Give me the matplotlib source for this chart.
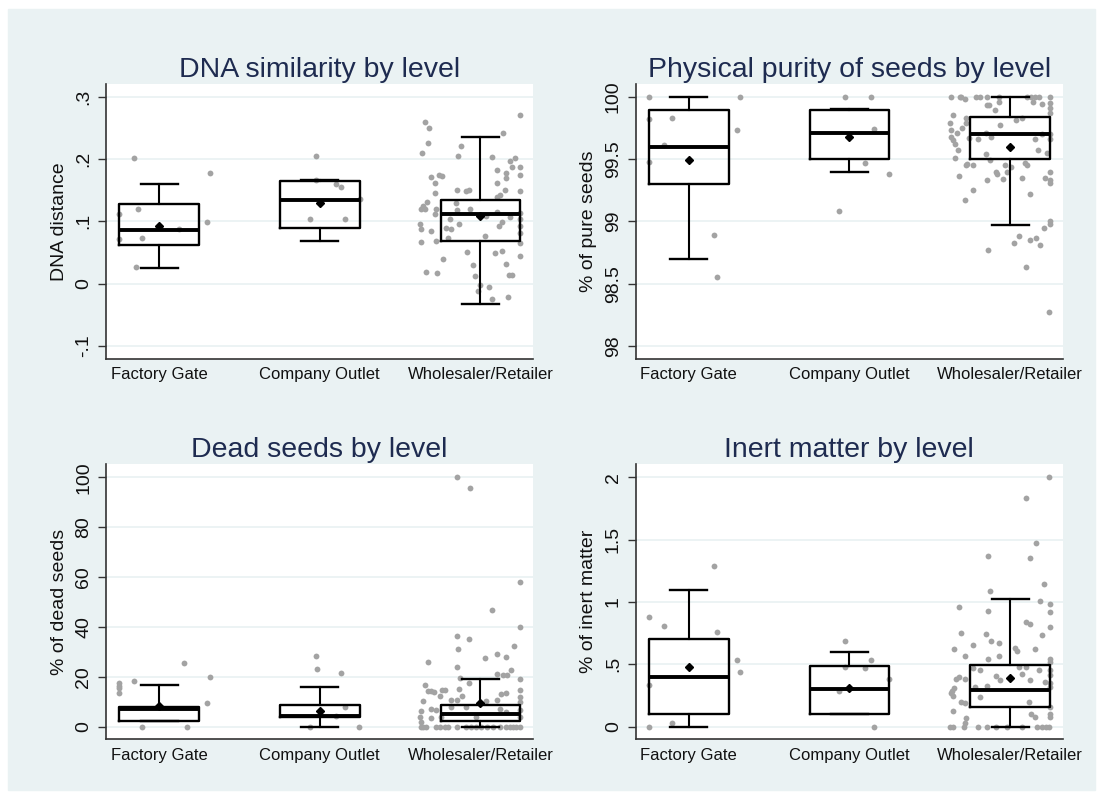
import matplotlib
matplotlib.use('Agg')
import matplotlib.pyplot as plt
from matplotlib.patches import Rectangle

plt.rcParams['font.family'] = ['Liberation Sans', 'DejaVu Sans']

cats = ['Factory Gate', 'Company Outlet', 'Wholesaler/Retailer']

# box stats per category: (whislo, q1, median, q3, whishi, mean)
dna_box = [(0.025, 0.062, 0.086, 0.128, 0.160, 0.093),
           (0.069, 0.089, 0.135, 0.164, 0.166, 0.129),
           (-0.033, 0.068, 0.112, 0.135, 0.236, 0.109)]
pur_box = [(98.695, 99.30, 99.60, 99.89, 100.0, 99.495),
           (99.40, 99.50, 99.706, 99.893, 99.90, 99.674),
           (98.97, 99.50, 99.70, 99.84, 100.0, 99.60)]
dead_box = [(2.2, 2.2, 7.1, 7.8, 16.9, 8.3),
            (0.0, 4.0, 4.3, 8.7, 16.0, 6.3),
            (0.0, 2.4, 5.1, 8.6, 19.2, 9.6)]
inert_box = [(0.0, 0.10, 0.40, 0.70, 1.10, 0.476),
             (0.10, 0.10, 0.30, 0.49, 0.60, 0.31),
             (0.0, 0.155, 0.294, 0.492, 1.024, 0.393)]

# individual observations: jitter offset (dx) and value (y)
dna_fg_dx = [-0.156, -0.129, -0.251, -0.251, -0.104, -0.145, 0.122, 0.315, 0.297]
dna_fg_y = [0.202, 0.120, 0.111, 0.072, 0.073, 0.027, 0.088, 0.177, 0.099]
dna_co_dx = [-0.023, -0.023, 0.104, 0.133, 0.253, -0.058, 0.158]
dna_co_y = [0.205, 0.167, 0.160, 0.155, 0.136, 0.103, 0.103]
dna_wr_dx = [0.245, -0.346, -0.320, 0.141, -0.324, -0.122, -0.361, -0.139, 0.071, 0.183,
             0.214, 0.247, 0.100, 0.199, 0.156, 0.158, 0.249, -0.305, -0.259, -0.237,
             -0.280, 0.104, -0.282, -0.149, -0.093, -0.073, 0.154, 0.249, 0.124, 0.100,
             -0.357, -0.332, -0.367, -0.346, -0.274, -0.284, -0.154, -0.145, -0.066, 0.037,
             0.104, 0.183, 0.249, 0.249, -0.378, -0.191, -0.373, -0.309, -0.216, -0.181,
             -0.135, 0.116, 0.137, 0.249, 0.249, -0.371, -0.274, -0.201, 0.027, 0.249,
             -0.081, 0.093, 0.137, 0.245, -0.232, -0.046, 0.158, -0.336, -0.268, -0.035,
             0.176, 0.197, 0.0, 0.054, -0.015, 0.073, 0.172]
dna_wr_y = [0.270, 0.259, 0.249, 0.241, 0.225, 0.221, 0.209, 0.205, 0.204, 0.197,
            0.201, 0.187, 0.183, 0.187, 0.177, 0.169, 0.174, 0.171, 0.175, 0.172,
            0.162, 0.161, 0.146, 0.151, 0.148, 0.150, 0.151, 0.148, 0.143, 0.139,
            0.125, 0.131, 0.119, 0.119, 0.120, 0.111, 0.129, 0.118, 0.119, 0.109,
            0.115, 0.107, 0.113, 0.103, 0.096, 0.103, 0.087, 0.084, 0.089, 0.088,
            0.096, 0.092, 0.099, 0.092, 0.081, 0.067, 0.068, 0.073, 0.076, 0.065,
            0.051, 0.049, 0.052, 0.045, 0.040, 0.030, 0.031, 0.018, 0.017, 0.013,
            0.014, 0.014, -0.003, -0.005, -0.012, -0.025, -0.022]

pur_fg_dx = [-0.248, -0.248, -0.104, -0.151, -0.246, 0.317, 0.300, 0.157, 0.178]
pur_fg_y = [100, 99.82, 99.83, 99.615, 99.476, 100, 99.73, 98.89, 98.556]
pur_co_dx = [-0.025, 0.133, 0.153, 0.0, 0.099, 0.246, -0.062]
pur_co_y = [100, 100, 99.738, 99.68, 99.465, 99.38, 99.086]
pur_wr_dx = [-0.369, -0.315, -0.304, -0.284, -0.213, -0.190, -0.145, -0.072, -0.072, 0.104,
             0.130, 0.155, 0.180, 0.248, 0.141, 0.197, 0.248, 0.248, 0.248, -0.145,
             -0.130, -0.093, -0.358, -0.275, -0.373, -0.275, -0.300, -0.365, -0.331, -0.366,
             -0.356, -0.346, -0.327, -0.346, -0.062, 0.037, 0.072, -0.153, -0.120, -0.197,
             -0.253, 0.155, 0.197, 0.248, 0.248, 0.176, 0.228, -0.149, -0.269, -0.273,
             -0.232, -0.128, -0.033, 0.004, 0.095, 0.104, -0.087, -0.079, -0.017, -0.045,
             0.072, -0.321, -0.145, 0.217, 0.248, 0.248, 0.248, -0.234, -0.280, 0.124,
             0.248, 0.248, 0.211, 0.056, 0.027, 0.124, 0.159, 0.186, -0.135, 0.099, 0.240]
pur_wr_y = [100, 100, 100, 99.98, 100, 100, 100, 100, 99.96, 100,
            100, 100, 100, 100, 99.96, 99.94, 99.95, 99.91, 99.87, 99.93,
            99.93, 99.89, 99.85, 99.83, 99.79, 99.79, 99.75, 99.73, 99.71, 99.68,
            99.65, 99.62, 99.57, 99.51, 99.77, 99.81, 99.83, 99.71, 99.68, 99.66,
            99.67, 99.66, 99.70, 99.70, 99.66, 99.57, 99.55, 99.54, 99.46, 99.45,
            99.45, 99.49, 99.45, 99.44, 99.47, 99.45, 99.40, 99.38, 99.40, 99.34,
            99.35, 99.36, 99.33, 99.35, 99.40, 99.33, 99.31, 99.25, 99.17, 99.22,
            99.0, 98.98, 98.95, 98.88, 98.83, 98.85, 98.87, 98.81, 98.77, 98.63, 98.27]

dead_fg_dx = [-0.251, -0.251, -0.251, -0.251, -0.156, 0.156, 0.315, 0.297, -0.104, 0.174]
dead_fg_y = [17.4, 16.3, 15.4, 13.6, 18.4, 25.4, 19.8, 9.6, 0, 0]
dead_co_dx = [-0.023, -0.019, 0.135, 0.158, 0.104, -0.058, 0.247]
dead_co_y = [28.5, 23.1, 21.7, 7.75, 4.3, 0, 0]
dead_wr_dx = [0.071, 0.249, -0.145, -0.073, -0.139, 0.210, -0.324, 0.027, 0.100, 0.158,
              -0.149, 0.193, 0.141, 0.166, 0.100, 0.245, -0.346, -0.129, -0.073, -0.135,
              -0.324, -0.305, -0.290, -0.237, -0.218, -0.253, -0.112, 0.127, 0.158, 0.245,
              0.249, -0.357, -0.181, -0.149, 0.037, 0.100, 0.249, -0.373, -0.305, -0.274,
              -0.181, -0.087, 0.120, 0.162, 0.249, -0.378, -0.367, -0.309, -0.243, -0.025,
              0.249,
              -0.373, -0.357, -0.336, -0.278, -0.253, -0.222, -0.201, -0.145, -0.087, -0.056,
              -0.029, 0.006, 0.041, 0.079, 0.120, 0.158, 0.183, 0.203, 0.224, 0.249,
              -0.149, -0.066, 0.245]
dead_wr_y = [46.8, 39.8, 36.4, 35.3, 31.0, 32.3, 25.9, 27.4, 29.1, 28.0,
             24.0, 22.7, 20.7, 20.7, 21.1, 19.1, 16.8, 19.6, 17.4, 15.2,
             14.3, 14.3, 13.8, 14.7, 14.7, 12.3, 12.3, 13.0, 13.4, 14.7,
             12.0, 10.4, 10.7, 10.7, 10.4, 10.7, 10.0, 6.3, 7.0, 6.7,
             7.8, 8.0, 7.1, 6.0, 6.7, 3.7, 2.0, 3.4, 4.0, 3.7,
             4.0,
             0, 0, 0, 0, 0, 0, 0, 0, 0, 0,
             0, 0, 0, 0, 0, 0, 0, 0, 0, 0,
             100, 95.6, 58.2]

inert_fg_dx = [-0.248, -0.151, 0.159, 0.178, 0.300, 0.317, -0.248, -0.104, -0.248]
inert_fg_y = [0.877, 0.810, 1.289, 0.757, 0.532, 0.436, 0.332, 0.032, 0]
inert_co_dx = [-0.025, -0.025, 0.133, 0.099, 0.246, -0.062, 0.153]
inert_co_y = [0.687, 0.481, 0.532, 0.468, 0.382, 0.289, 0]
inert_wr_dx = [0.211, -0.128, 0.186, -0.321, 0.248, 0.248, -0.139, 0.099, 0.124, 0.248,
               -0.304, -0.149, 0.197, -0.120, -0.072, -0.348, -0.234, 0.031, 0.041, 0.155,
               -0.280, -0.072, -0.139, 0.248, 0.248, -0.186, -0.232, 0.052, 0.099, 0.182,
               0.248, 0.248, -0.321, -0.335, -0.284, -0.087, -0.062, 0.072, 0.124, 0.217,
               0.248, -0.348, -0.217, -0.145, 0.248, -0.362, -0.366, -0.358, -0.190, -0.304,
               -0.280, 0.118, 0.248, -0.358, 0.130, 0.155, 0.248, 0.248, -0.273, -0.280,
               -0.377, -0.358, -0.286, -0.203, -0.145, -0.087, -0.017, 0.072, 0.170, 0.197,
               0.222, 0.244,
               0.242, 0.099, 0.159, -0.135, 0.124]
inert_wr_y = [1.144, 1.091, 1.010, 0.962, 0.981, 0.917, 0.928, 0.842, 0.824, 0.802,
              0.749, 0.743, 0.735, 0.687, 0.668, 0.621, 0.653, 0.629, 0.610, 0.621,
              0.567, 0.567, 0.540, 0.543, 0.521, 0.455, 0.468, 0.476, 0.476, 0.455,
              0.455, 0.415, 0.396, 0.380, 0.383, 0.409, 0.374, 0.420, 0.374, 0.361,
              0.348, 0.307, 0.315, 0.329, 0.315, 0.286, 0.267, 0.249, 0.235, 0.201,
              0.187, 0.201, 0.160, 0.126, 0.102, 0.080, 0.102, 0.075, 0.072, 0.027,
              0, 0, 0, 0, 0, 0, 0, 0, 0, 0,
              0, 0,
              2.0, 1.837, 1.471, 1.369, 1.353]

bg = '#EAF2F3'
navy = '#1E2B50'
W, H = 1101, 798

fig = plt.figure(figsize=(W / 100, H / 100), dpi=100, facecolor='white')
fig.patches.append(Rectangle((8 / W, 8 / H), (1095 - 8) / W, (790 - 9) / H,
                             transform=fig.transFigure, color=bg, zorder=-10))


def panel(rect, title, ylabel, ylim, yticks, yticklabels, box, groups):
    ax = fig.add_axes(rect)
    ax.set_facecolor('white')
    for i, (dx, y) in enumerate(groups):
        ax.plot([i + 1 + d for d in dx], y, 'o', color='#A3A3A3', ms=4.2, mec='none', zorder=1)
    stats = []
    for lo, q1, med, q3, hi, mean in box:
        stats.append(dict(whislo=lo, q1=q1, med=med, q3=q3, whishi=hi, mean=mean))
    ax.bxp(stats, positions=[1, 2, 3], widths=0.495, capwidths=0.23,
           showmeans=True, showfliers=False,
           boxprops=dict(color='black', lw=1.7),
           whiskerprops=dict(color='black', lw=1.5),
           capprops=dict(color='black', lw=1.7),
           medianprops=dict(color='black', lw=2.8),
           meanprops=dict(marker='D', markerfacecolor='black', markeredgecolor='black', markersize=4.5))
    ax.set_xlim(0.67, 3.327)
    ax.set_ylim(*ylim)
    ax.set_xticks([1, 2, 3], cats)
    ax.set_yticks(yticks, yticklabels, rotation=90, va='center')
    ax.tick_params(axis='x', length=0, labelsize=12, pad=6, colors='#111111')
    ax.tick_params(axis='y', length=6, width=1, labelsize=14, pad=4, colors='#333333', labelcolor='#111111')
    ax.yaxis.grid(True, color=bg, lw=1.3)
    ax.set_axisbelow(True)
    for s in ['top', 'right']:
        ax.spines[s].set_visible(False)
    for s in ['left', 'bottom']:
        ax.spines[s].set_color('#333333')
        ax.spines[s].set_linewidth(1.2)
    ax.set_title(title, fontsize=20.5, color=navy, pad=5)
    ax.set_ylabel(ylabel, fontsize=14, color='#111111')
    ax.yaxis.set_label_coords(-0.09, 0.5)
    return ax


panel([106 / W, 1 - 359 / H, 427 / W, 275 / H], 'DNA similarity by level', 'DNA distance',
      (-0.121, 0.3204), [-0.1, 0, 0.1, 0.2, 0.3], ['-.1', '0', '.1', '.2', '.3'], dna_box,
      [(dna_fg_dx, dna_fg_y), (dna_co_dx, dna_co_y), (dna_wr_dx, dna_wr_y)])
panel([635.7 / W, 1 - 359 / H, 427 / W, 275 / H], 'Physical purity of seeds by level', '% of pure seeds',
      (97.896, 100.102), [98, 98.5, 99, 99.5, 100], ['98', '98.5', '99', '99.5', '100'], pur_box,
      [(pur_fg_dx, pur_fg_y), (pur_co_dx, pur_co_y), (pur_wr_dx, pur_wr_y)])
panel([106 / W, 1 - 739.3 / H, 427 / W, 275.3 / H], 'Dead seeds by level', '% of dead seeds',
      (-5.05, 105.33), [0, 20, 40, 60, 80, 100], ['0', '20', '40', '60', '80', '100'], dead_box,
      [(dead_fg_dx, dead_fg_y), (dead_co_dx, dead_co_y), (dead_wr_dx, dead_wr_y)])
panel([635.7 / W, 1 - 739.3 / H, 427 / W, 275.3 / H], 'Inert matter by level', '% of inert matter',
      (-0.101, 2.107), [0, 0.5, 1, 1.5, 2], ['0', '.5', '1', '1.5', '2'], inert_box,
      [(inert_fg_dx, inert_fg_y), (inert_co_dx, inert_co_y), (inert_wr_dx, inert_wr_y)])

fig.savefig('out.png', dpi=100, facecolor='white')
